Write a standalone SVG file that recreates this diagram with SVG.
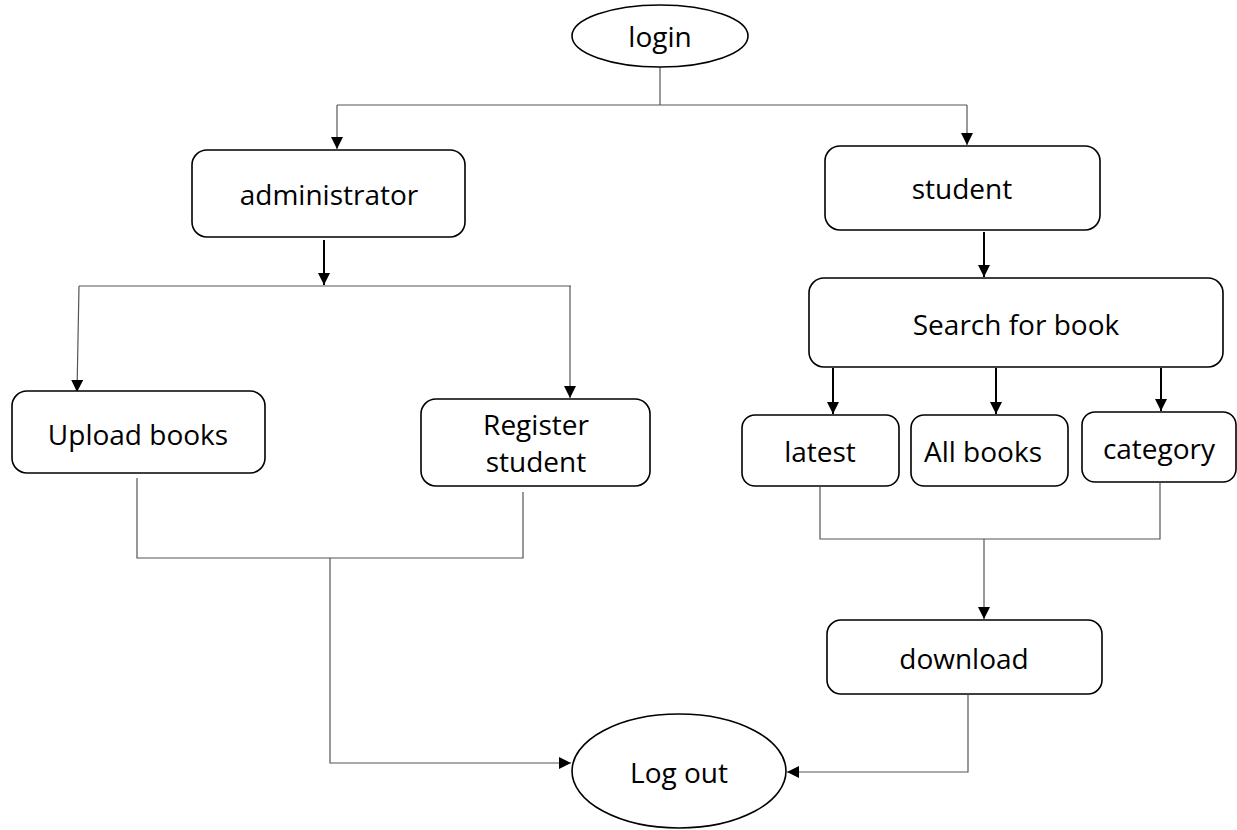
<svg xmlns="http://www.w3.org/2000/svg" width="1237" height="830" viewBox="0 0 1237 830">
  <style>
    .box { fill: #ffffff; stroke: #000000; stroke-width: 1.6; }
    .lbl { font-family: "Open Sans", "Liberation Sans", sans-serif; font-size: 28px; fill: #000000; text-anchor: middle; dominant-baseline: central; }
    .thin { fill: none; stroke: #555555; stroke-width: 1.2; }
    .bold { fill: none; stroke: #000000; stroke-width: 2; }
  </style>
  <defs>
    <marker id="arrow" viewBox="0 0 10 10" refX="10" refY="5" markerWidth="12" markerHeight="12" markerUnits="userSpaceOnUse" orient="auto">
      <path d="M0,0 L10,5 L0,10 z" fill="#000000"/>
    </marker>
  </defs>
  <rect width="1237" height="830" fill="#ffffff"/>

  <g id="connectors">
    <!-- login to both roles -->
    <path class="thin" d="M660,67 V105"/>
    <path class="thin" d="M337,105 H967"/>
    <path class="thin" d="M337,105 V149" marker-end="url(#arrow)"/>
    <path class="thin" d="M967,105 V145" marker-end="url(#arrow)"/>
    <!-- administrator branch -->
    <path class="bold" d="M324,240 V285" marker-end="url(#arrow)"/>
    <path class="thin" d="M79,286 H571"/>
    <path class="thin" d="M79,286 L77,392" marker-end="url(#arrow)"/>
    <path class="thin" d="M570,286 V398" marker-end="url(#arrow)"/>
    <path class="thin" d="M137,478 V558 H523 V492"/>
    <path class="thin" d="M330,558 V763 H571" marker-end="url(#arrow)"/>
    <!-- student branch -->
    <path class="bold" d="M984,232 V277" marker-end="url(#arrow)"/>
    <path class="bold" d="M833,368 V414" marker-end="url(#arrow)"/>
    <path class="bold" d="M996,368 V414" marker-end="url(#arrow)"/>
    <path class="bold" d="M1161,368 V411" marker-end="url(#arrow)"/>
    <path class="thin" d="M820,487 V539 H1160 V483"/>
    <path class="thin" d="M984,539 V619" marker-end="url(#arrow)"/>
    <path class="thin" d="M968,695 V772 H787" marker-end="url(#arrow)"/>
  </g>

  <g id="login">
    <ellipse class="box" cx="660" cy="36" rx="88" ry="31"/>
    <text class="lbl" x="660" y="36">login</text>
  </g>
  <g id="administrator">
    <rect class="box" x="192" y="150" width="273" height="87" rx="15"/>
    <text class="lbl" x="329" y="194">administrator</text>
  </g>
  <g id="student">
    <rect class="box" x="825" y="146" width="275" height="84" rx="15"/>
    <text class="lbl" x="962" y="188">student</text>
  </g>
  <g id="upload-books">
    <rect class="box" x="12" y="391" width="253" height="82" rx="15"/>
    <text class="lbl" x="138" y="434">Upload books</text>
  </g>
  <g id="register-student">
    <rect class="box" x="421" y="399" width="229" height="87" rx="15"/>
    <text class="lbl" x="536" y="424">Register</text>
    <text class="lbl" x="536" y="461">student</text>
  </g>
  <g id="search-for-book">
    <rect class="box" x="809" y="278" width="414" height="89" rx="15"/>
    <text class="lbl" x="1016" y="324">Search for book</text>
  </g>
  <g id="latest">
    <rect class="box" x="742" y="415" width="157" height="71" rx="13"/>
    <text class="lbl" x="820" y="451">latest</text>
  </g>
  <g id="all-books">
    <rect class="box" x="911" y="415" width="157" height="71" rx="13"/>
    <text class="lbl" x="983" y="451">All books</text>
  </g>
  <g id="category">
    <rect class="box" x="1082" y="412" width="154" height="70" rx="13"/>
    <text class="lbl" x="1159" y="448">category</text>
  </g>
  <g id="download">
    <rect class="box" x="827" y="620" width="275" height="74" rx="14"/>
    <text class="lbl" x="964" y="658">download</text>
  </g>
  <g id="log-out">
    <ellipse class="box" cx="679" cy="771" rx="107" ry="57"/>
    <text class="lbl" x="679" y="772">Log out</text>
  </g>
</svg>
